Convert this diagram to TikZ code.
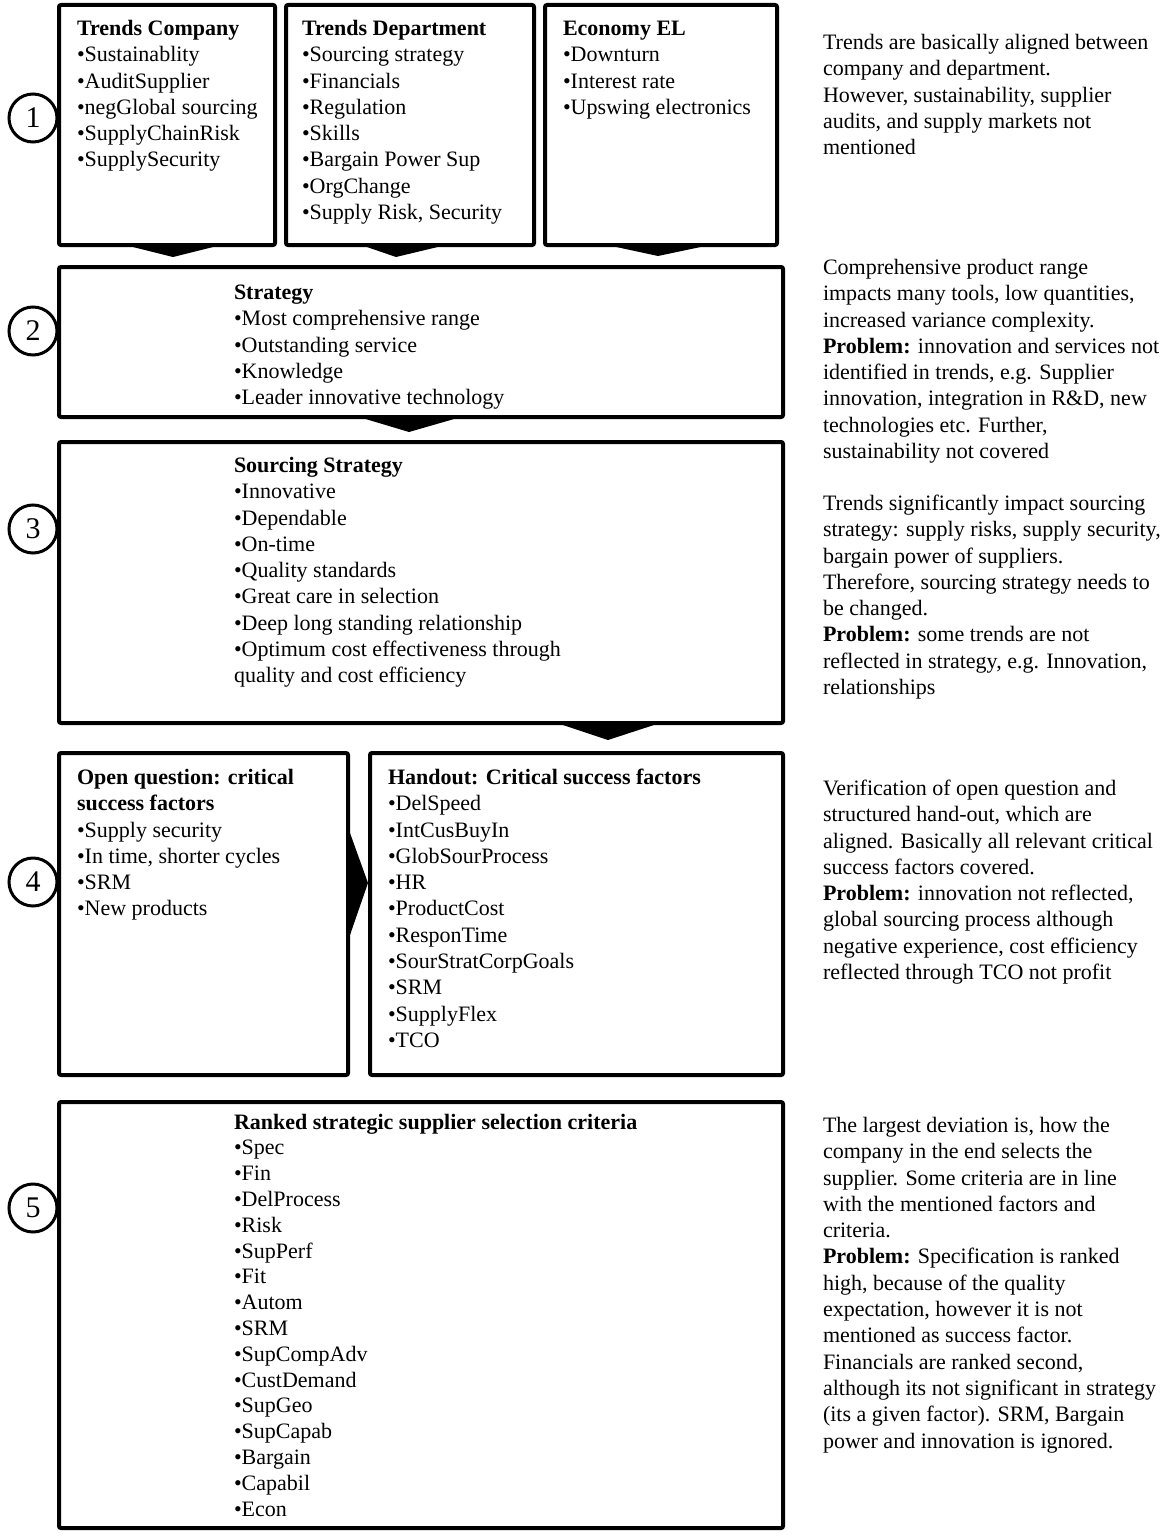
\documentclass[tikz,border=0pt]{standalone}
\usepackage{fontspec}
\setmainfont{Liberation Serif}
\usetikzlibrary{calc}
\begin{document}
\begin{tikzpicture}[x=1pt,y=-1pt,
  box/.style={draw, line width=4pt, rounded corners=2pt, inner sep=0pt, outer sep=0pt},
  txt/.style={anchor=north west, inner sep=0pt, outer sep=0pt, align=left,
              font=\fontsize{22}{26.3}\selectfont},
  num/.style={circle, draw, line width=3pt, minimum size=48pt, inner sep=0pt,
              font=\fontsize{30}{30}\selectfont},
  blk/.style={fill=black}]
\useasboundingbox (0,0) rectangle (1172,1536);

% frames
\node[box, minimum width=216pt, minimum height=240pt] (b1a) at (167,125) {};
\node[box, minimum width=248pt, minimum height=240pt] (b1b) at (410,125) {};
\node[box, minimum width=232pt, minimum height=240pt] (b1c) at (661,125) {};
\node[box, minimum width=724pt, minimum height=150pt] (b2) at (421,342) {};
\node[box, minimum width=724pt, minimum height=281pt] (b3) at (421,582.5) {};
\node[box, minimum width=289pt, minimum height=322pt] (b4a) at (203.5,914) {};
\node[box, minimum width=413pt, minimum height=322pt] (b4b) at (576.5,914) {};
\node[box, minimum width=724pt, minimum height=426pt] (b5) at (421,1315) {};

% block arrows
\fill[blk] ($(b1a.south)+(-42,0)$) -- ($(b1a.south)+(54,0)$) -- ($(b1a.south)+(6,12)$) -- cycle;
\fill[blk] ($(b1b.south)+(-49,0)$) -- ($(b1b.south)+(36,0)$) -- ($(b1b.south)+(-14,12)$) -- cycle;
\fill[blk] ($(b1c.south)+(-54,0)$) -- ($(b1c.south)+(49,0)$) -- ($(b1c.south)+(-3,11)$) -- cycle;
\fill[blk] ($(b2.south)+(-62,0)$) -- ($(b2.south)+(40,0)$) -- ($(b2.south)+(-12,15)$) -- cycle;
\fill[blk] ($(b3.south)+(136,0)$) -- ($(b3.south)+(239,0)$) -- ($(b3.south)+(187,17)$) -- cycle;
\fill[blk] ($(b4a.east)+(2,-81)$) -- ($(b4a.east)+(2,21)$) -- ($(b4a.east)+(20,-31)$) -- cycle;

% step numbers
\node[num] (n1) at (33,118) {1};
\node[num] (n2) at (33,331) {2};
\node[num] (n3) at (33,529) {3};
\node[num] (n4) at (33,882) {4};
\node[num] (n5) at (33,1208) {5};

% box contents
\node[txt] (t1a) at (77,17) {\strut\textbf{Trends Company}\\•Sustainablity\\•AuditSupplier\\•negGlobal sourcing\\•SupplyChainRisk\\•SupplySecurity};
\node[txt] (t1b) at (302,17) {\strut\textbf{Trends Department}\\•Sourcing strategy\\•Financials\\•Regulation\\•Skills\\•Bargain Power Sup\\•OrgChange\\•Supply Risk, Security};
\node[txt] (t1c) at (563,17) {\strut\textbf{Economy EL}\\•Downturn\\•Interest rate\\•Upswing electronics};
\node[txt] (t2) at (234,281) {\strut\textbf{Strategy}\\•Most comprehensive range\\•Outstanding service\\•Knowledge\\•Leader innovative technology};
\node[txt] (t3) at (234,454) {\strut\textbf{Sourcing Strategy}\\•Innovative\\•Dependable\\•On-time\\•Quality standards\\•Great care in selection\\•Deep long standing relationship\\•Optimum cost effectiveness through\\quality and cost efficiency};
\node[txt] (t4a) at (77,766) {\strut\textbf{Open question: critical}\\\textbf{success factors}\\•Supply security\\•In time, shorter cycles\\•SRM\\•New products};
\node[txt] (t4b) at (388,766) {\strut\textbf{Handout: Critical success factors}\\•DelSpeed\\•IntCusBuyIn\\•GlobSourProcess\\•HR\\•ProductCost\\•ResponTime\\•SourStratCorpGoals\\•SRM\\•SupplyFlex\\•TCO};
\node[txt, font=\fontsize{22}{25.8}\selectfont] (t5) at (234,1111) {\strut\textbf{Ranked strategic supplier selection criteria}\\•Spec\\•Fin\\•DelProcess\\•Risk\\•SupPerf\\•Fit\\•Autom\\•SRM\\•SupCompAdv\\•CustDemand\\•SupGeo\\•SupCapab\\•Bargain\\•Capabil\\•Econ};

% comments on the right
\node[txt] (c1) at (823,31) {\strut Trends are basically aligned between\\company and department.\\However, sustainability, supplier\\audits, and supply markets not\\mentioned};
\node[txt] (c2) at (823,256) {\strut Comprehensive product range\\impacts many tools, low quantities,\\increased variance complexity.\\\textbf{Problem:} innovation and services not\\identified in trends, e.g. Supplier\\innovation, integration in R\&D, new\\technologies etc. Further,\\sustainability not covered};
\node[txt] (c3) at (823,492) {\strut Trends significantly impact sourcing\\strategy: supply risks, supply security,\\bargain power of suppliers.\\Therefore, sourcing strategy needs to\\be changed.\\\textbf{Problem:} some trends are not\\reflected in strategy, e.g. Innovation,\\relationships};
\node[txt] (c4) at (823,777) {\strut Verification of open question and\\structured hand-out, which are\\aligned. Basically all relevant critical\\success factors covered.\\\textbf{Problem:} innovation not reflected,\\global sourcing process although\\negative experience, cost efficiency\\reflected through TCO not profit};
\node[txt] (c5) at (823,1114) {\strut The largest deviation is, how the\\company in the end selects the\\supplier. Some criteria are in line\\with the mentioned factors and\\criteria.\\\textbf{Problem:} Specification is ranked\\high, because of the quality\\expectation, however it is not\\mentioned as success factor.\\Financials are ranked second,\\although its not significant in strategy\\(its a given factor). SRM, Bargain\\power and innovation is ignored.};
\end{tikzpicture}
\end{document}
